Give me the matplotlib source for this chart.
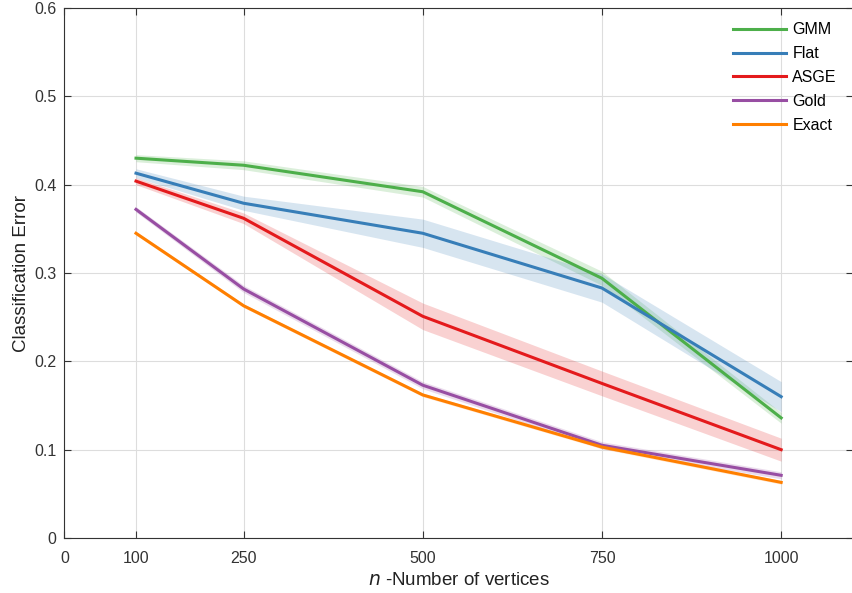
import numpy as np
import matplotlib
matplotlib.use('Agg')
from matplotlib import pyplot as plt

plt.rcParams['font.family'] = ['Liberation Sans', 'DejaVu Sans']

n = [100, 250, 500, 750, 1000]

names = ['GMM', 'Flat', 'ASGE', 'Gold', 'Exact']
colors = ['#4daf4a', '#377eb8', '#e41a1c', '#984ea3', '#ff7f00']

gmm = [0.430, 0.422, 0.392, 0.294, 0.136]
flat = [0.413, 0.379, 0.345, 0.283, 0.160]
asge = [0.404, 0.362, 0.251, 0.175, 0.100]
gold = [0.372, 0.282, 0.173, 0.105, 0.071]
exact = [0.345, 0.263, 0.162, 0.103, 0.063]

# half widths of shaded bands
gmm_err = [0.004, 0.005, 0.006, 0.008, 0.006]
flat_err = [0.005, 0.008, 0.016, 0.016, 0.017]
asge_err = [0.004, 0.006, 0.015, 0.014, 0.013]
gold_err = [0.003, 0.004, 0.004, 0.004, 0.004]
exact_err = [0.002, 0.002, 0.002, 0.002, 0.002]

means = [gmm, flat, asge, gold, exact]
errs = [gmm_err, flat_err, asge_err, gold_err, exact_err]

fig = plt.figure(figsize=(8.52, 5.93), dpi=100)
ax = fig.add_axes([0.0755, 0.0927, 0.9255, 0.8938])

for name, c, m, e in zip(names, colors, means, errs):
    m = np.array(m)
    e = np.array(e)
    ax.fill_between(n, m - e, m + e, color=c, alpha=0.2, lw=0)
    ax.plot(n, m, color=c, lw=2.2, label=name)

ax.set_xlim(0, 1100)
ax.set_ylim(0, 0.6)
ax.set_xticks([0, 100, 250, 500, 750, 1000])
ax.set_yticks([0, 0.1, 0.2, 0.3, 0.4, 0.5, 0.6])
ax.set_yticklabels(['0', '0.1', '0.2', '0.3', '0.4', '0.5', '0.6'])
ax.grid(True, color='#dddddd', lw=0.8)
ax.set_axisbelow(True)
ax.tick_params(direction='in', top=True, right=True, labelsize=11.5,
               colors='#333333', length=5)
ax.tick_params(axis='x', pad=9)
ax.tick_params(axis='y', pad=5.5)
for s in ax.spines.values():
    s.set_color('#333333')

ax.set_xlabel('$n$ -Number of vertices', fontsize=13.5, color='#222222', labelpad=5)
ax.set_ylabel('Classification Error', fontsize=13.5, color='#222222', labelpad=3)

ax.legend(loc='upper right', frameon=False, fontsize=11.5,
          handlelength=3.3, handletextpad=0.4, labelspacing=0.55,
          bbox_to_anchor=(0.998, 1.0))

fig.savefig('out.png', dpi=100)
